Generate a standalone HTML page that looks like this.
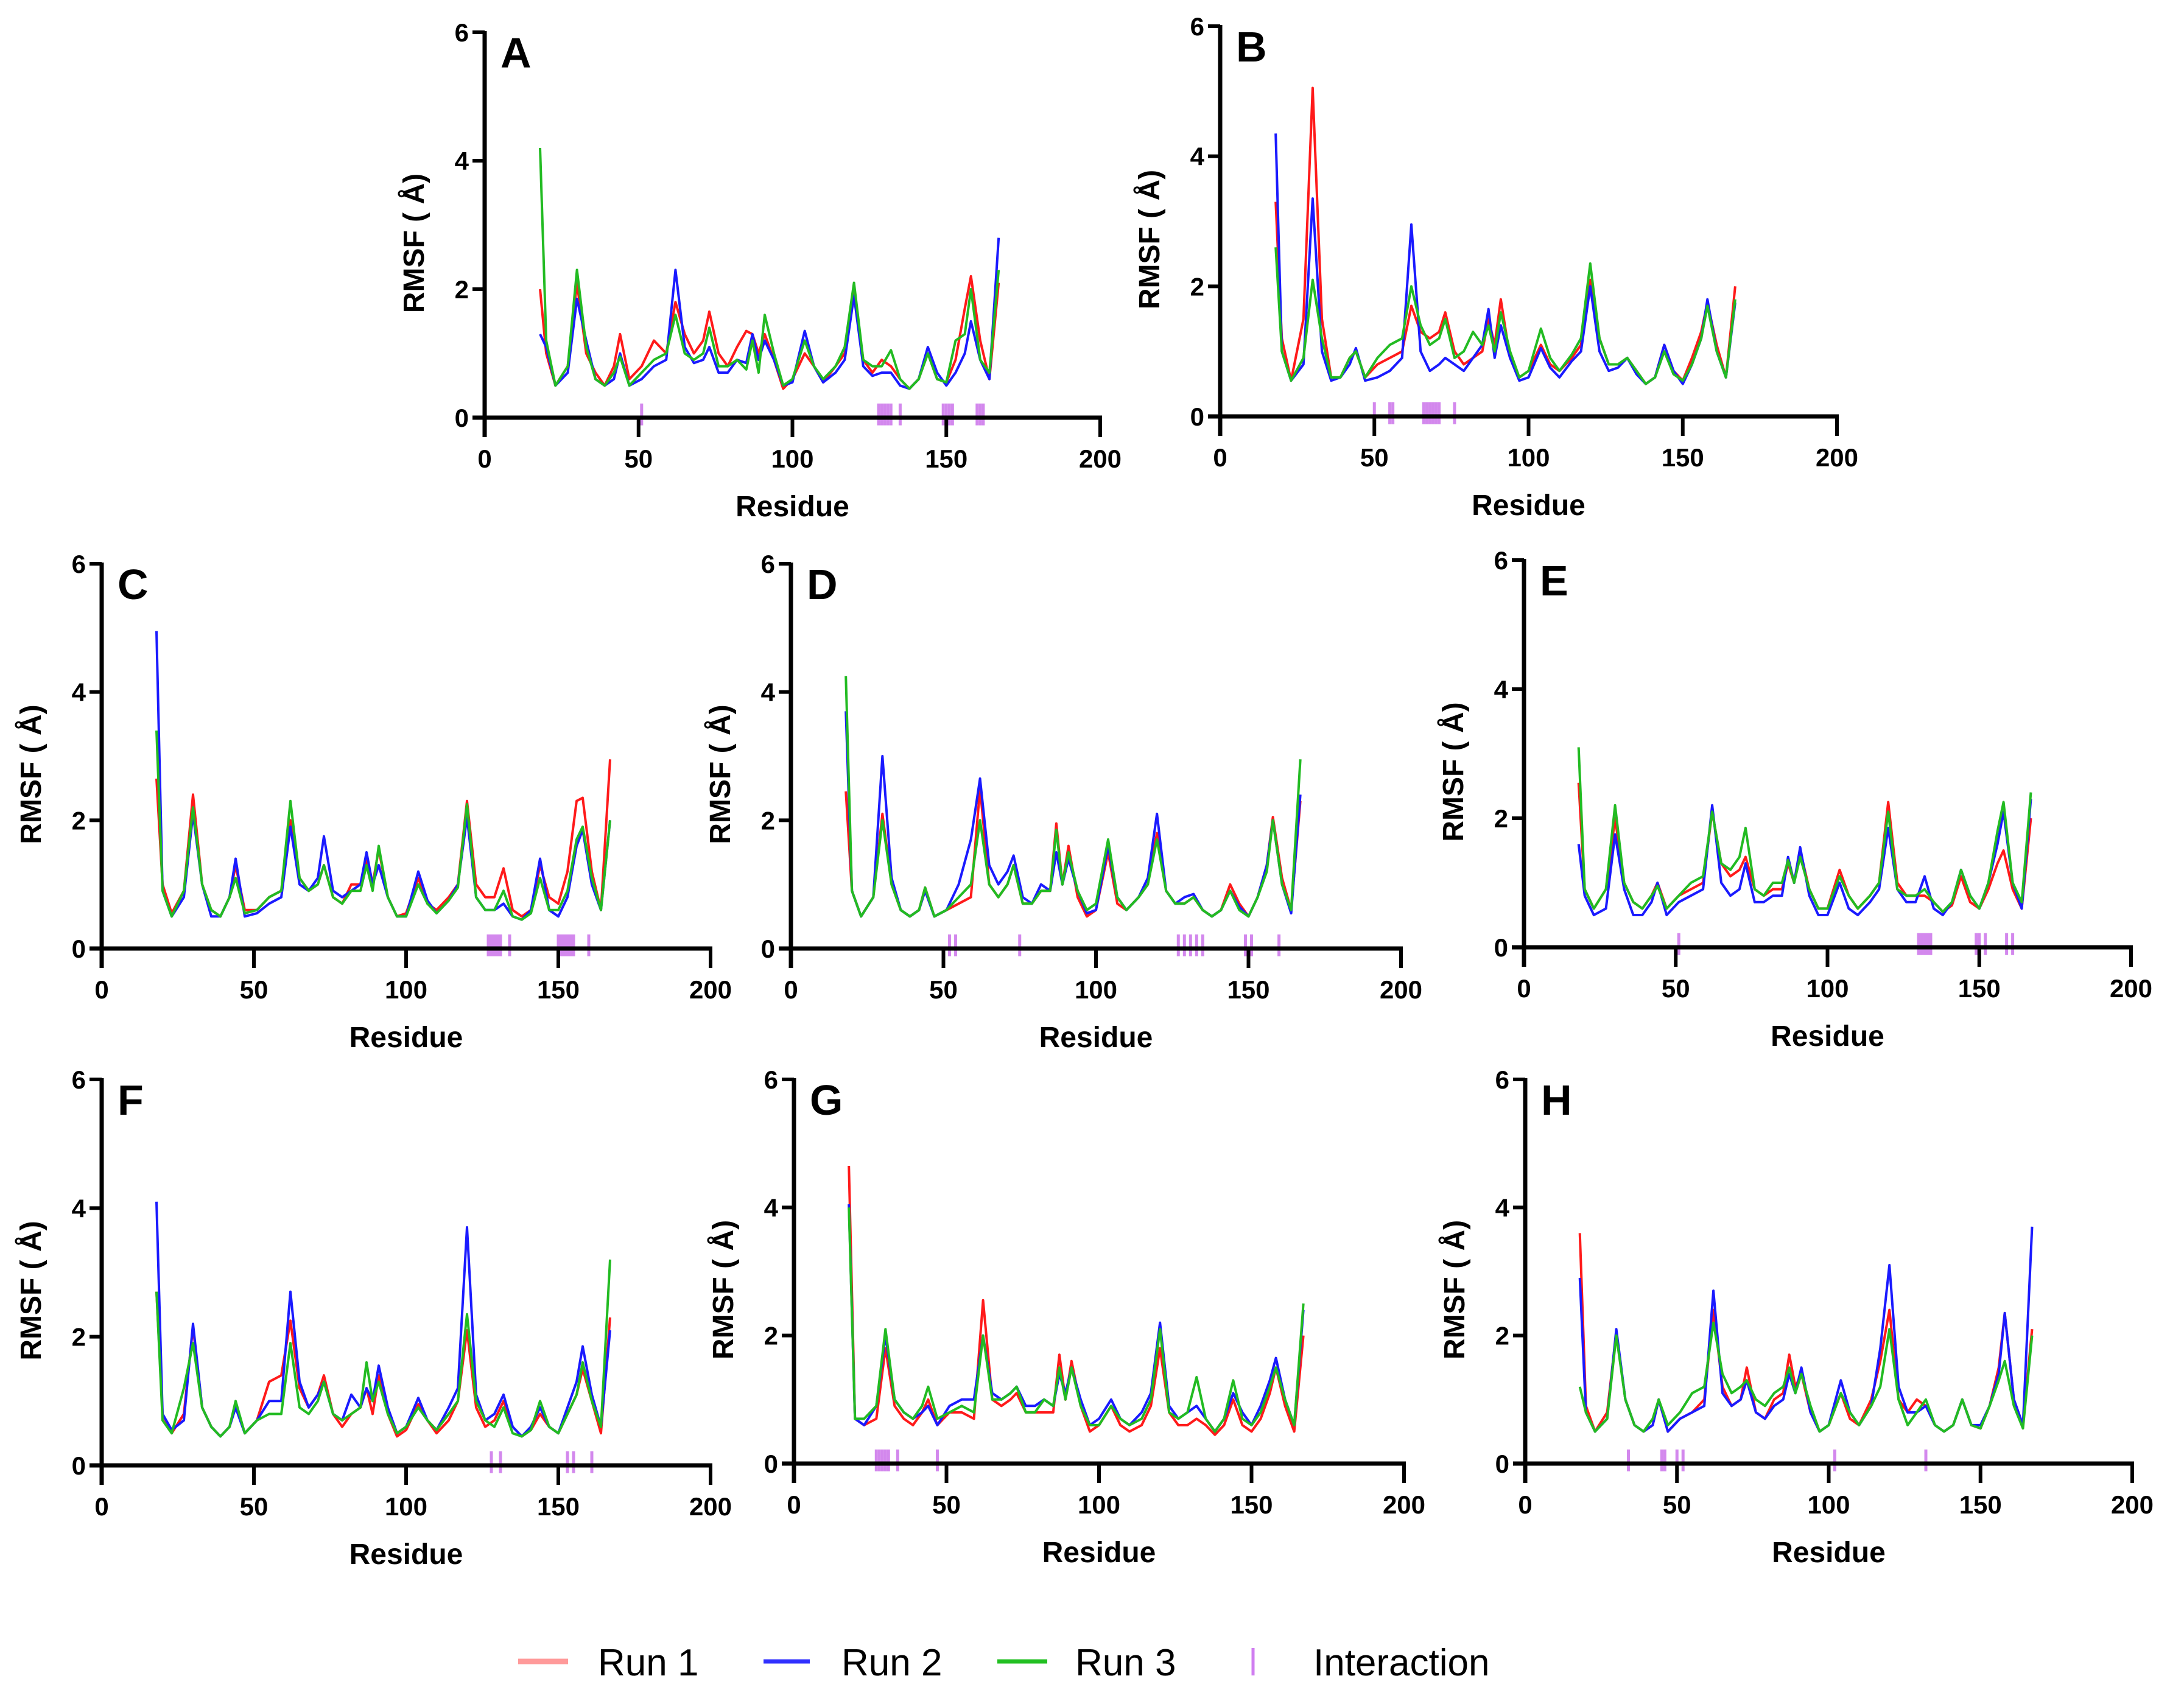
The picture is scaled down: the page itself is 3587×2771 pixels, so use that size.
<!DOCTYPE html>
<html><head><meta charset="utf-8">
<style>
html,body{margin:0;padding:0;background:#fff;}
svg{display:block;}
text{font-family:"Liberation Sans",Arial,sans-serif;}
</style></head>
<body>
<svg id="fig" width="3587" height="2771" viewBox="0 0 3587 2771" xmlns="http://www.w3.org/2000/svg">
<rect width="3587" height="2771" fill="#fff"/>
<g id="legend">
  <g><line x1="851" y1="2729" x2="933" y2="2729" stroke="#ff9a9a" stroke-width="9"/><text x="982" y="2752" font-size="62">Run 1</text></g>
  <g><line x1="1254" y1="2729" x2="1330" y2="2729" stroke="#3030ff" stroke-width="7"/><text x="1382" y="2752" font-size="62">Run 2</text></g>
  <g><line x1="1638" y1="2729" x2="1720" y2="2729" stroke="#22c022" stroke-width="7"/><text x="1766" y="2752" font-size="62">Run 3</text></g>
  <g><line x1="2058" y1="2707" x2="2058" y2="2752" stroke="#d07ef0" stroke-width="5"/><text x="2157" y="2752" font-size="62">Interaction</text></g>
</g>
</svg>
<script>
const residues=[18,20,23,27,30,33,36,39,42,44,47,51,55,59,62,65,68,71,73,76,79,82,85,87,89,91,94,97,100,104,107,110,114,117,120,123,126,129,132,135,138,141,144,147,150,153,156,158,161,164,167];
const xTicks=[0,50,100,150,200];
const yTicks=[0,2,4,6];
const panelLabels=["A","B","C","D","E","F","G","H"];
const run1A=[2.0,1.0,0.5,0.8,2.1,1.0,0.7,0.5,0.8,1.3,0.6,0.8,1.2,1.0,1.8,1.3,1.0,1.2,1.65,1.0,0.8,1.1,1.35,1.3,1.0,1.3,0.9,0.45,0.6,1.0,0.8,0.55,0.8,1.0,1.95,0.9,0.7,0.9,0.8,0.6,0.45,0.6,1.0,0.6,0.55,0.9,1.7,2.2,1.2,0.6,2.1];
const run2A=[1.3,1.1,0.5,0.7,1.85,1.2,0.6,0.5,0.6,1.0,0.5,0.6,0.8,0.9,2.3,1.1,0.85,0.9,1.1,0.7,0.7,0.9,0.85,1.3,0.9,1.2,0.9,0.5,0.55,1.35,0.8,0.55,0.7,0.9,1.9,0.8,0.65,0.7,0.7,0.5,0.45,0.6,1.1,0.7,0.5,0.7,1.0,1.5,0.9,0.6,2.8];
const run3A=[4.2,1.2,0.5,0.8,2.3,1.1,0.6,0.5,0.7,0.95,0.5,0.7,0.9,1.0,1.6,1.0,0.9,1.0,1.4,0.8,0.8,0.9,0.75,1.2,0.7,1.6,1.0,0.5,0.6,1.2,0.8,0.6,0.8,1.1,2.1,0.9,0.8,0.8,1.05,0.6,0.45,0.6,1.0,0.6,0.55,1.2,1.3,2.0,0.9,0.7,2.3];
const run1B=[3.3,1.2,0.55,1.5,5.05,1.5,0.6,0.6,0.9,1.0,0.6,0.8,0.9,1.0,1.7,1.3,1.2,1.3,1.6,1.0,0.8,0.9,1.0,1.5,1.1,1.8,0.9,0.6,0.7,1.1,0.8,0.7,0.9,1.1,2.1,1.2,0.8,0.8,0.9,0.7,0.5,0.6,1.1,0.7,0.55,0.9,1.3,1.75,1.1,0.6,2.0];
const run2B=[4.35,1.0,0.55,0.8,3.35,1.0,0.55,0.6,0.8,1.05,0.55,0.6,0.7,0.9,2.95,1.0,0.7,0.8,0.9,0.8,0.7,0.9,1.1,1.65,0.9,1.4,0.9,0.55,0.6,1.05,0.75,0.6,0.85,1.0,2.0,1.0,0.7,0.75,0.9,0.65,0.5,0.6,1.1,0.7,0.5,0.8,1.2,1.8,1.0,0.6,1.75];
const run3B=[2.6,1.0,0.55,0.9,2.1,1.2,0.6,0.6,0.9,1.0,0.6,0.9,1.1,1.2,2.0,1.4,1.1,1.2,1.5,0.9,1.0,1.3,1.1,1.4,1.0,1.6,1.0,0.6,0.7,1.35,0.9,0.7,0.95,1.2,2.35,1.2,0.8,0.8,0.9,0.7,0.5,0.6,1.0,0.65,0.55,0.8,1.2,1.7,1.0,0.6,1.8];
const run1C=[2.65,1.0,0.55,0.9,2.4,1.0,0.6,0.5,0.8,1.3,0.6,0.6,0.8,0.9,2.0,1.1,0.9,1.0,1.3,0.8,0.7,1.0,1.0,1.4,1.0,1.55,0.8,0.5,0.55,1.1,0.7,0.6,0.8,1.0,2.3,1.0,0.8,0.8,1.25,0.6,0.5,0.6,1.3,0.8,0.7,1.2,2.3,2.35,1.2,0.6,2.95];
const run2C=[4.95,0.9,0.5,0.8,2.1,1.0,0.5,0.5,0.8,1.4,0.5,0.55,0.7,0.8,1.9,1.0,0.9,1.1,1.75,0.9,0.8,0.9,1.0,1.5,1.0,1.3,0.8,0.5,0.5,1.2,0.75,0.55,0.75,1.0,2.05,0.8,0.6,0.6,0.7,0.5,0.45,0.6,1.4,0.6,0.5,0.8,1.6,1.85,1.0,0.6,2.0];
const run3C=[3.4,0.9,0.5,0.9,2.2,1.0,0.6,0.5,0.8,1.1,0.55,0.6,0.8,0.9,2.3,1.1,0.9,1.0,1.3,0.8,0.7,0.9,0.9,1.3,0.9,1.6,0.8,0.5,0.5,1.0,0.7,0.55,0.75,0.95,2.25,0.8,0.6,0.6,0.9,0.5,0.45,0.55,1.1,0.6,0.6,0.9,1.7,1.9,1.1,0.6,2.0];
const run1D=[2.45,0.9,0.5,0.8,2.1,1.0,0.6,0.5,0.6,0.95,0.5,0.6,0.7,0.8,2.5,1.0,0.8,1.0,1.3,0.7,0.7,0.9,0.9,1.95,1.0,1.6,0.8,0.5,0.6,1.5,0.7,0.6,0.8,1.0,1.8,0.9,0.7,0.7,0.8,0.6,0.5,0.6,1.0,0.7,0.5,0.8,1.3,2.05,1.1,0.6,2.3];
const run2D=[3.7,0.9,0.5,0.8,3.0,1.1,0.6,0.5,0.6,0.9,0.5,0.6,1.0,1.7,2.65,1.3,1.0,1.2,1.45,0.8,0.7,1.0,0.9,1.5,1.0,1.4,0.9,0.55,0.6,1.6,0.8,0.6,0.8,1.1,2.1,0.9,0.7,0.8,0.85,0.6,0.5,0.6,0.9,0.65,0.5,0.8,1.3,2.0,1.0,0.55,2.4];
const run3D=[4.25,0.9,0.5,0.8,2.0,1.0,0.6,0.5,0.6,0.95,0.5,0.6,0.8,1.0,2.0,1.0,0.8,1.0,1.3,0.7,0.7,0.9,0.9,1.85,1.0,1.5,0.9,0.6,0.7,1.7,0.8,0.6,0.8,1.0,1.7,0.9,0.7,0.7,0.8,0.6,0.5,0.6,0.9,0.6,0.5,0.8,1.2,2.0,1.0,0.6,2.95];
const run1E=[2.55,0.9,0.6,0.9,2.0,1.0,0.7,0.6,0.8,1.0,0.6,0.8,0.9,1.0,2.1,1.3,1.1,1.2,1.4,0.9,0.8,0.9,0.9,1.3,1.0,1.5,0.9,0.6,0.6,1.2,0.8,0.6,0.8,1.0,2.25,1.0,0.8,0.8,0.8,0.7,0.55,0.65,1.1,0.7,0.6,0.9,1.3,1.5,0.9,0.6,2.0];
const run2E=[1.6,0.8,0.5,0.6,1.75,0.9,0.5,0.5,0.7,1.0,0.5,0.7,0.8,0.9,2.2,1.0,0.8,0.9,1.3,0.7,0.7,0.8,0.8,1.4,1.0,1.55,0.8,0.5,0.5,1.0,0.6,0.5,0.7,0.9,1.85,0.9,0.7,0.7,1.1,0.6,0.5,0.7,1.2,0.8,0.6,1.0,1.6,2.1,1.0,0.6,2.3];
const run3E=[3.1,0.9,0.6,0.9,2.2,1.0,0.7,0.6,0.8,0.95,0.6,0.8,1.0,1.1,2.1,1.3,1.2,1.4,1.85,0.9,0.8,1.0,1.0,1.35,1.0,1.4,0.9,0.6,0.6,1.1,0.8,0.6,0.8,1.0,2.1,0.9,0.8,0.8,0.9,0.7,0.55,0.7,1.2,0.8,0.6,1.0,1.8,2.25,1.0,0.7,2.4];
const run1F=[2.7,0.8,0.5,0.8,2.15,0.9,0.6,0.45,0.6,0.95,0.5,0.7,1.3,1.4,2.25,1.2,0.9,1.1,1.4,0.8,0.6,0.8,0.9,1.2,0.8,1.4,0.8,0.45,0.55,0.95,0.7,0.5,0.7,1.0,2.1,0.9,0.6,0.7,1.0,0.6,0.45,0.55,0.8,0.6,0.5,0.8,1.1,1.5,1.0,0.5,2.3];
const run2F=[4.1,0.8,0.55,0.7,2.2,0.9,0.6,0.45,0.6,0.9,0.5,0.7,1.0,1.0,2.7,1.3,0.9,1.1,1.3,0.8,0.7,1.1,0.9,1.2,1.0,1.55,0.9,0.5,0.6,1.05,0.7,0.55,0.9,1.2,3.7,1.1,0.7,0.8,1.1,0.6,0.45,0.6,0.9,0.6,0.5,0.9,1.3,1.85,1.1,0.6,2.1];
const run3F=[2.7,0.7,0.5,1.2,1.9,0.9,0.6,0.45,0.6,1.0,0.5,0.7,0.8,0.8,1.9,0.9,0.8,1.0,1.3,0.8,0.7,0.8,0.9,1.6,1.0,1.3,0.8,0.5,0.6,0.9,0.7,0.55,0.8,1.0,2.35,1.0,0.7,0.6,0.9,0.5,0.45,0.55,1.0,0.6,0.5,0.8,1.1,1.6,1.0,0.6,3.2];
const run1G=[4.65,0.7,0.6,0.7,1.8,0.9,0.7,0.6,0.8,1.0,0.6,0.8,0.8,0.7,2.55,1.0,0.9,1.0,1.1,0.8,0.8,0.8,0.8,1.7,1.0,1.6,0.9,0.5,0.6,0.9,0.6,0.5,0.6,0.9,1.8,0.8,0.6,0.6,0.7,0.6,0.45,0.6,1.0,0.6,0.5,0.7,1.1,1.5,0.9,0.5,2.0];
const run2G=[4.05,0.7,0.6,0.9,2.0,1.0,0.8,0.7,0.8,0.9,0.6,0.9,1.0,1.0,2.0,1.1,1.0,1.1,1.2,0.9,0.9,1.0,0.9,1.4,1.1,1.5,1.0,0.6,0.7,1.0,0.7,0.6,0.8,1.1,2.2,0.9,0.7,0.8,0.9,0.7,0.5,0.7,1.1,0.8,0.6,0.9,1.3,1.65,1.0,0.6,2.4];
const run3G=[4.0,0.7,0.7,0.9,2.1,1.0,0.8,0.7,0.9,1.2,0.7,0.8,0.9,0.8,2.0,1.0,1.0,1.1,1.2,0.8,0.8,1.0,0.9,1.5,1.0,1.5,0.9,0.6,0.6,0.9,0.7,0.6,0.7,1.0,2.1,0.8,0.7,0.8,1.35,0.7,0.5,0.7,1.3,0.7,0.6,0.8,1.2,1.5,1.0,0.6,2.5];
const run1H=[3.6,0.9,0.5,0.8,2.05,1.0,0.6,0.5,0.6,1.0,0.5,0.7,0.8,1.0,2.4,1.2,0.9,1.0,1.5,0.8,0.7,1.0,1.1,1.7,1.2,1.4,0.8,0.5,0.6,1.1,0.7,0.6,1.0,1.6,2.4,1.0,0.8,1.0,0.9,0.6,0.5,0.6,1.0,0.6,0.55,0.9,1.5,2.35,1.0,0.6,2.1];
const run2H=[2.9,0.8,0.5,0.7,2.1,1.0,0.6,0.5,0.6,1.0,0.5,0.7,0.8,0.9,2.7,1.1,0.9,1.0,1.3,0.8,0.7,0.9,1.0,1.4,1.1,1.5,0.8,0.5,0.6,1.3,0.8,0.6,0.9,1.8,3.1,1.2,0.8,0.8,0.9,0.6,0.5,0.6,1.0,0.6,0.6,0.9,1.4,2.35,1.0,0.6,3.7];
const run3H=[1.2,0.8,0.5,0.7,2.0,1.0,0.6,0.5,0.7,1.0,0.6,0.8,1.1,1.2,2.2,1.4,1.1,1.2,1.3,1.0,0.9,1.1,1.2,1.5,1.1,1.4,0.9,0.5,0.6,1.1,0.8,0.6,0.9,1.2,2.1,1.0,0.6,0.8,1.0,0.6,0.5,0.6,1.0,0.6,0.55,0.9,1.3,1.6,0.9,0.55,2.0];
const interA=[51,128,129,130,131,132,135,149,150,151,152,160,161,162];
const interB=[50,55,56,66,67,68,69,70,71,76];
const interC=[127,128,129,130,131,134,150,151,152,153,154,155,160];
const interD=[52,54,75,127,129,131,133,135,149,151,160];
const interE=[51,130,131,132,133,134,149,150,152,159,161];
const interF=[128,131,153,155,161];
const interG=[27,28,29,30,31,34,47];
const interH=[34,45,46,50,52,102,132];

const frames=[[796,1807,686,53],[2004,3017,684,43],[167,1167,1558,926],[1299,2301,1558,926],[2503,3500,1556,920],[167,1167,2407,1773],[1304,2306,2404,1773],[2505,3502,2404,1773]];
const runsAll=[[run1A,run2A,run3A],[run1B,run2B,run3B],[run1C,run2C,run3C],[run1D,run2D,run3D],[run1E,run2E,run3E],[run1F,run2F,run3F],[run1G,run2G,run3G],[run1H,run2H,run3H]];
const intersAll=[interA,interB,interC,interD,interE,interF,interG,interH];
const colors=["#ff1a1a","#1a1aff","#22bb22"];
const NS="http://www.w3.org/2000/svg";
const svg=document.getElementById('fig');
function mk(tag,attrs,parent){const e=document.createElementNS(NS,tag);for(const k in attrs)e.setAttribute(k,attrs[k]);parent.appendChild(e);return e;}
frames.forEach((f,pi)=>{
  const [x0,x1,y0,y6]=f;
  const sx=v=>x0+(x1-x0)*v/200;
  const sy=v=>y0+(y6-y0)*v/6;
  const g=mk('g',{},svg);
  
  
  runsAll[pi].forEach((vals,ri)=>{
    const d=vals.map((v,i)=>(i?'L':'M')+sx(residues[i]).toFixed(1)+' '+sy(v).toFixed(1)).join(' ');
    const p=mk('path',{d:d,fill:'none',stroke:colors[ri],'stroke-width':4,'stroke-linejoin':'round'},g);
    
    
  });
  intersAll[pi].forEach(r=>{
    const l=mk('line',{x1:sx(r),x2:sx(r),y1:sy(0.22),y2:sy(-0.12),stroke:'#c86ae8','stroke-width':5,'stroke-opacity':0.8},g);
    
    
  });
  const ya=mk('line',{x1:x0,x2:x0,y1:y6-2,y2:y0+32,stroke:'#000','stroke-width':7},g);
  
  
  const xa=mk('line',{x1:x0-20,x2:x1+3,y1:y0,y2:y0,stroke:'#000','stroke-width':7},g);
  
  
  yTicks.forEach(t=>{
    mk('line',{x1:x0-20,x2:x0,y1:sy(t),y2:sy(t),stroke:'#000','stroke-width':6},g);
    const tx=mk('text',{x:x0-26,y:sy(t)+15,'font-size':42,'font-weight':'bold','text-anchor':'end'},g);
    tx.textContent=t;
    
    
  });
  xTicks.forEach(t=>{
    mk('line',{x1:sx(t),x2:sx(t),y1:y0,y2:y0+32,stroke:'#000','stroke-width':6},g);
    const tx=mk('text',{x:sx(t),y:y0+82,'font-size':42,'font-weight':'bold','text-anchor':'middle'},g);
    tx.textContent=t;
    
    
  });
  const xt=mk('text',{x:(x0+x1)/2,y:y0+162,'font-size':48,'font-weight':'bold','text-anchor':'middle'},g);
  xt.textContent='Residue';
  
  
  const cy=(y0+y6)/2+30;
  const yt=mk('text',{x:x0-100,y:cy,'font-size':48,'font-weight':'bold','text-anchor':'middle',transform:'rotate(-90 '+(x0-100)+' '+cy+')'},g);
  yt.textContent='RMSF ( Å)';
  
  
  const pl=mk('text',{x:x0+26,y:y6+58,'font-size':70,'font-weight':'bold'},g);
  pl.textContent=panelLabels[pi];
  
  
});
</script>
</body></html>
